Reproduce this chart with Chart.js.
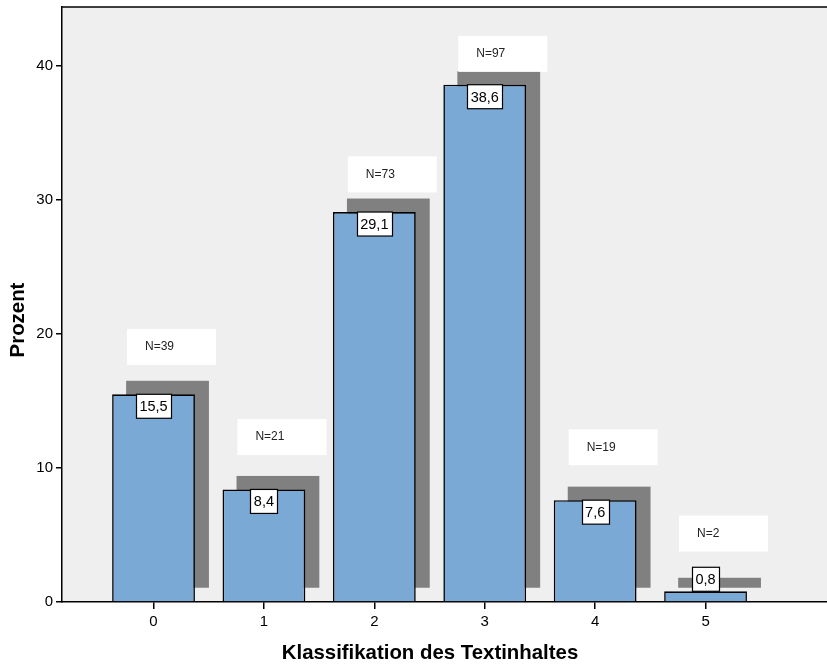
<!DOCTYPE html>
<html>
<head>
<meta charset="utf-8">
<script src="https://cdn.jsdelivr.net/npm/chart.js@4/dist/chart.umd.min.js"></script>
<style>
  html, body { margin: 0; padding: 0; background: #fff; }
  #wrap { width: 827px; height: 666px; }
</style>
</head>
<body>
<div id="wrap"><canvas id="c" width="827" height="666"></canvas></div>
<script>
// Klassifikation des Textinhaltes: Prozentanteile und Fallzahlen
const categories = [0, 1, 2, 3, 4, 5];
const percents = [15.5, 8.4, 29.1, 38.6, 7.6, 0.8];
const counts = [39, 21, 73, 97, 19, 2];
const yTicks = [0, 10, 20, 30, 40];

const FONT = '"Liberation Sans", Arial, sans-serif';
const BAR_FILL = '#7aa9d6';
const SHADOW = '#808080';
const PLOT_BG = '#efefef';

const fmt = v => v.toFixed(1).replace('.', ',');

// plot background + frame line on top
const backdrop = {
  id: 'backdrop',
  beforeDraw(chart) {
    const { ctx, chartArea: a } = chart;
    ctx.save();
    ctx.fillStyle = PLOT_BG;
    ctx.fillRect(a.left, a.top, a.right - a.left, a.bottom - a.top);
    ctx.strokeStyle = '#000';
    ctx.lineWidth = 1.5;
    ctx.beginPath();
    ctx.moveTo(a.left - 0.75, a.top);
    ctx.lineTo(a.right, a.top);
    ctx.stroke();
    ctx.restore();
  }
};

// offset drop shadow behind each bar
const barShadow = {
  id: 'barShadow',
  beforeDatasetsDraw(chart) {
    const { ctx } = chart;
    const meta = chart.getDatasetMeta(0);
    ctx.save();
    ctx.fillStyle = SHADOW;
    meta.data.forEach(bar => {
      const p = bar.getProps(['x', 'y', 'base', 'width'], true);
      const dx = 14, dy = -13.5;
      ctx.fillRect(p.x - p.width / 2 + dx, p.y + dy, p.width, p.base - p.y);
    });
    ctx.restore();
  }
};

// value boxes on the bars and "N=" boxes above them
const labels = {
  id: 'labels',
  afterDatasetsDraw(chart) {
    const { ctx } = chart;
    const ys = chart.scales.y;
    const meta = chart.getDatasetMeta(0);
    ctx.save();
    meta.data.forEach((bar, i) => {
      const p = bar.getProps(['x', 'y', 'base', 'width'], true);

      // N box
      const nCenter = ys.getPixelForValue(percents[i] * 0.947 + 4.35);
      const bw = 89, bh = 36;
      const bx = p.x + 18 - bw / 2;
      const by = nCenter - bh / 2;
      ctx.fillStyle = '#fff';
      ctx.fillRect(bx, by, bw, bh);
      ctx.fillStyle = '#222';
      ctx.font = '12px ' + FONT;
      ctx.textAlign = 'left';
      ctx.textBaseline = 'middle';
      ctx.fillText('N=' + counts[i], bx + 18, nCenter);

      // value box
      const txt = fmt(percents[i]);
      ctx.font = '14.5px ' + FONT;
      const tw = ctx.measureText(txt).width;
      const w = Math.round(tw + 7), h = 24;
      const top = (p.base - p.y) >= h ? p.y : p.y - h;
      const left = Math.round(p.x - w / 2) + 0.5;
      ctx.fillStyle = '#fff';
      ctx.fillRect(left, top, w, h);
      ctx.strokeStyle = '#000';
      ctx.lineWidth = 1.2;
      ctx.strokeRect(left, top, w, h);
      ctx.fillStyle = '#000';
      ctx.textAlign = 'center';
      ctx.fillText(txt, p.x, top + h / 2 + 1);
    });
    ctx.restore();
  }
};

// axis titles
const titles = {
  id: 'titles',
  afterDraw(chart) {
    const { ctx } = chart;
    ctx.save();
    ctx.fillStyle = '#000';
    ctx.font = 'bold 20.4px ' + FONT;
    ctx.textAlign = 'center';
    ctx.textBaseline = 'middle';
    ctx.fillText('Klassifikation des Textinhaltes', 430, 653);
    ctx.translate(18.5, 320);
    ctx.rotate(-Math.PI / 2);
    ctx.fillText('Prozent', 0, 0);
    ctx.restore();
  }
};

new Chart(document.getElementById('c'), {
  type: 'bar',
  data: {
    datasets: [{
      data: categories.map((c, i) => ({ x: c, y: percents[i] })),
      backgroundColor: BAR_FILL,
      borderColor: '#000',
      borderWidth: 1.6,
      borderSkipped: 'bottom',
      barPercentage: 0.75,
      categoryPercentage: 1
    }]
  },
  options: {
    responsive: false,
    animation: false,
    layout: { padding: { top: 7, right: 0, left: 0, bottom: 0 } },
    plugins: { legend: { display: false }, tooltip: { enabled: false } },
    scales: {
      x: {
        type: 'linear',
        offset: false,
        min: -0.829,
        max: 6.1,
        afterBuildTicks: s => { s.ticks = categories.map(v => ({ value: v })); },
        afterFit: s => { s.height = 64; s.paddingLeft = 0; s.paddingRight = 0; },
        grid: { offset: false, drawOnChartArea: false, drawTicks: true, tickLength: 7, color: '#000', lineWidth: 1.5 },
        border: { display: true, color: '#000', width: 1.5 },
        ticks: { color: '#000', font: { family: FONT, size: 15 }, padding: 4, maxRotation: 0 }
      },
      y: {
        min: 0,
        max: 44.4,
        afterBuildTicks: s => { s.ticks = yTicks.map(v => ({ value: v })); },
        afterFit: s => { s.width = 62; s.paddingTop = 0; s.paddingBottom = 0; },
        grid: { drawOnChartArea: false, drawTicks: true, tickLength: 6, color: '#000', lineWidth: 1.5 },
        border: { display: true, color: '#000', width: 1.5 },
        ticks: { color: '#000', font: { family: FONT, size: 15 }, padding: 3 }
      }
    }
  },
  plugins: [backdrop, barShadow, labels, titles]
});
</script>
</body>
</html>
